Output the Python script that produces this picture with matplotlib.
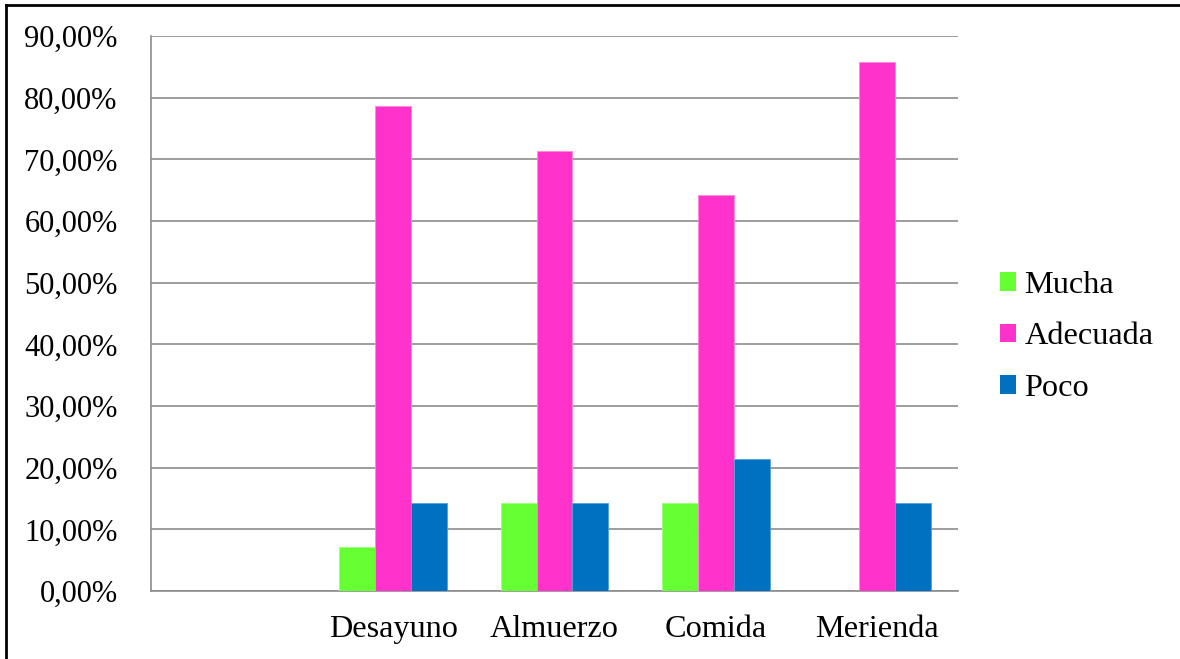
import matplotlib
matplotlib.use("Agg")
import matplotlib.pyplot as plt
import numpy as np
from matplotlib.patches import Patch
from matplotlib.lines import Line2D

categories = ["", "Desayuno", "Almuerzo", "Comida", "Merienda"]
series_names = ["Mucha", "Adecuada", "Poco"]
mucha = [0.0, 7.14, 14.29, 14.29, 0.0]
adecuada = [0.0, 78.57, 71.43, 64.29, 85.71]
poco = [0.0, 14.29, 14.29, 21.43, 14.29]
colors = ["#66FF33", "#FF33CC", "#0070C0"]
edge_colors = ["#99FF77", "#FF88DD", "#55A0DD"]
yticks = np.arange(0, 91, 10)

plt.rcParams['font.family'] = ['Liberation Serif', 'DejaVu Serif']
FS = 23.2

fig = plt.figure(figsize=(11.8, 6.59), dpi=100)
ax = fig.add_axes([151/1180, 1 - 591/659, (958-151)/1180, (591-36)/659])

x = np.arange(len(categories))
w = 0.223
for i, (vals, c, ec) in enumerate(zip([mucha, adecuada, poco], colors, edge_colors)):
    ax.bar(x + (i - 1) * w, vals, width=w, color=c, edgecolor=ec, linewidth=0.6,
           zorder=3, label=series_names[i])

ax.set_xlim(-0.5, len(categories) - 0.5)
ax.set_ylim(0, 90)
ax.set_yticks(yticks)
ax.set_yticklabels([f"{v:.2f}".replace(".", ",") + "%" for v in yticks])
ax.set_xticks(x)
ax.set_xticklabels(categories)
ax.tick_params(axis='both', length=0)
ax.tick_params(axis='y', pad=24, labelsize=22)
ax.tick_params(axis='x', pad=17, labelsize=FS)
ax.yaxis.grid(True, color="#8C8C8C", linewidth=1.2, zorder=0)
ax.set_axisbelow(True)
for s in ["top", "right"]:
    ax.spines[s].set_visible(False)
ax.spines["left"].set_color("#8C8C8C")
ax.spines["left"].set_linewidth(1.2)
ax.spines["bottom"].set_color("#8C8C8C")
ax.spines["bottom"].set_linewidth(1.2)

handles = [Patch(facecolor=c, edgecolor='none') for c in colors]
fig.legend(handles, series_names, loc='center left',
           bbox_to_anchor=(1000/1180, 1 - 337/659), frameon=False,
           fontsize=FS, handlelength=0.5, handleheight=0.5,
           handletextpad=0.25, labelspacing=0.7, borderpad=0, borderaxespad=0)

# outer frame: only top and left edges visible (cropped)
fig.lines.append(Line2D([6/1180, 6/1180], [0, 1 - 5/659], transform=fig.transFigure,
                        color='black', linewidth=2))
fig.lines.append(Line2D([6/1180, 1], [1 - 5/659, 1 - 5/659], transform=fig.transFigure,
                        color='black', linewidth=2))

fig.savefig("out.png", dpi=100)
